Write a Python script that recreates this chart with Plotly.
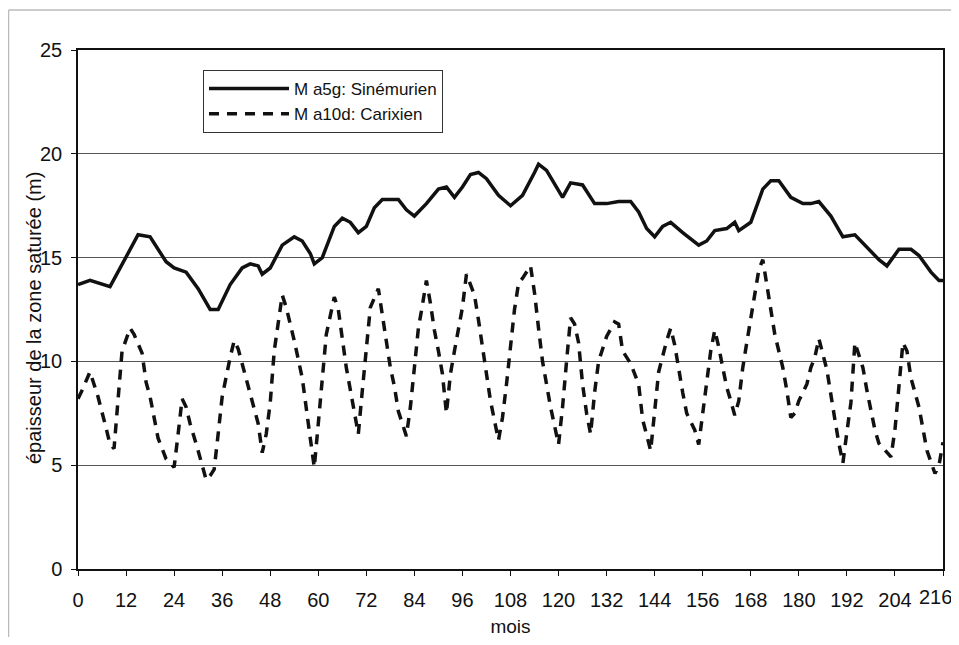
import plotly.graph_objects as go

# --- Data ---
sin_months = [0, 3, 8, 12, 15, 18, 22, 24, 27, 30, 33, 35, 38, 41, 43, 45, 46, 48, 51, 54, 56, 58, 59, 61,
              64, 66, 68, 70, 72, 74, 76, 80, 82, 84, 87, 90, 92, 94, 96, 98, 100, 102, 105, 108, 111, 114,
              115, 117, 120, 121, 123, 126, 129, 132, 135, 138, 140, 142, 144, 146, 148, 151, 155, 157, 159,
              162, 164, 165, 168, 171, 173, 175, 178, 181, 183, 185, 188, 191, 194, 197, 200, 202, 205, 208,
              210, 213, 215, 216]
sin_values = [13.7, 13.9, 13.6, 15.0, 16.1, 16.0, 14.8, 14.5, 14.3, 13.5, 12.5, 12.5, 13.7, 14.5, 14.7, 14.6,
              14.2, 14.5, 15.6, 16.0, 15.8, 15.2, 14.7, 15.0, 16.5, 16.9, 16.7, 16.2, 16.5, 17.4, 17.8, 17.8,
              17.3, 17.0, 17.6, 18.3, 18.4, 17.9, 18.4, 19.0, 19.1, 18.8, 18.0, 17.5, 18.0, 19.1, 19.5, 19.2,
              18.2, 17.9, 18.6, 18.5, 17.6, 17.6, 17.7, 17.7, 17.2, 16.4, 16.0, 16.5, 16.7, 16.2, 15.6, 15.8,
              16.3, 16.4, 16.7, 16.3, 16.7, 18.3, 18.7, 18.7, 17.9, 17.6, 17.6, 17.7, 17.0, 16.0, 16.1, 15.5,
              14.9, 14.6, 15.4, 15.4, 15.1, 14.3, 13.9, 13.9]

car_months = [0, 1, 3, 5, 7, 8, 9, 10, 11, 13, 14, 16, 17, 18, 20, 22, 24, 25, 26, 27, 28, 30, 32, 33, 34,
              35, 36, 38, 39, 40, 42, 44, 45, 46, 47, 48, 49, 51, 52, 54, 56, 58, 59, 60, 61, 62, 64, 65, 67,
              69, 70, 71, 72, 73, 75, 76, 77, 78, 79, 80, 82, 83, 84, 85, 86, 87, 88, 89, 90, 91, 92, 93, 94,
              95, 96, 97, 99, 100, 101, 102, 103, 105, 106, 107, 108, 109, 110, 111, 113, 114, 115, 116, 117,
              118, 120, 121, 122, 123, 124, 125, 126, 127, 128, 129, 130, 132, 134, 135, 136, 138, 140, 141,
              143, 144, 145, 147, 148, 149, 150, 151, 152, 154, 155, 156, 157, 158, 159, 160, 161, 162, 163,
              164, 165, 166, 167, 168, 169, 170, 171, 172, 173, 174, 175, 176, 177, 178, 179, 180, 182, 183,
              184, 185, 187, 188, 189, 190, 191, 192, 193, 194, 196, 197, 198, 199, 200, 202, 203, 204, 205,
              206, 207, 208, 210, 211, 212, 214, 215, 216]
car_values = [8.2, 8.6, 9.5, 8.3, 6.8, 6.0, 5.8, 8.3, 10.5, 11.6, 11.3, 10.4, 9.0, 8.3, 6.3, 5.3, 4.9, 6.5,
              8.2, 7.8, 7.0, 5.7, 4.3, 4.5, 4.8, 6.5, 8.3, 10.2, 11.0, 10.6, 9.2, 7.8, 7.0, 5.6, 6.5, 8.0,
              10.5, 13.2, 12.6, 11.0, 9.2, 6.3, 4.9, 7.0, 9.2, 11.3, 13.1, 12.5, 9.7, 7.5, 6.5, 8.6, 10.7,
              12.6, 13.5, 12.3, 10.9, 9.7, 8.8, 7.6, 6.4, 7.8, 9.7, 11.6, 12.7, 13.9, 12.8, 11.5, 10.5, 9.4,
              7.5, 9.4, 10.5, 11.5, 12.6, 14.2, 13.2, 12.0, 10.7, 9.4, 8.1, 6.2, 7.3, 8.9, 10.9, 12.5, 13.75,
              14.0, 14.6, 13.3, 11.6, 10.0, 8.9, 7.8, 6.0, 7.8, 10.0, 12.1, 11.8, 10.9, 8.9, 7.5, 6.5, 8.5,
              10.0, 11.2, 11.9, 11.8, 10.5, 9.9, 8.9, 7.2, 5.7, 7.6, 9.5, 11.0, 11.6, 10.8, 9.6, 8.5, 7.5,
              6.7, 6.0, 7.6, 9.2, 10.5, 11.5, 10.7, 9.7, 8.75, 8.1, 7.4, 8.1, 9.7, 10.9, 12.1, 13.4, 14.4,
              14.9, 13.75, 12.45, 11.3, 10.5, 9.7, 8.6, 7.3, 7.5, 8.1, 8.9, 9.7, 10.2, 11.1, 9.6, 8.3, 7.2,
              6.05, 5.1, 6.6, 8.0, 10.9, 9.7, 8.6, 7.6, 6.7, 6.05, 5.6, 5.4, 6.7, 8.6, 10.9, 10.5, 9.2, 7.8,
              6.7, 5.7, 4.6, 5.0, 6.1]

x_ticks = list(range(0, 217, 12))
y_ticks = [0, 5, 10, 15, 20, 25]

series_names = ["M a5g: Sinémurien", "M a10d: Carixien"]
x_title = "mois"
y_title = "épaisseur de la zone saturée (m)"

FONT = "Liberation Sans, Arial, sans-serif"

fig = go.Figure()
fig.add_trace(go.Scatter(x=sin_months, y=sin_values, mode="lines", name=series_names[0],
                         legendgroup="a",
                         line=dict(color="#111111", width=3.5)))
fig.add_trace(go.Scatter(x=car_months, y=car_values, mode="lines", name=series_names[1],
                         legendgroup="b",
                         line=dict(color="#111111", width=3.5, dash="10px,8px")))

# the page has an 8px body margin; work in page pixels and convert
OFF = 8
W, H = 959, 645 - 2 * OFF
L, R, T, B = 78 - OFF, 943 - OFF, 50 - OFF, 569 - OFF


def px(xpage):
    return (xpage - OFF - L) / (R - L)


def py(ypage):
    return (B - (ypage - OFF)) / (B - T)


# last tick label would be cut by the window edge: draw it as an annotation kept inside
tick_text = [str(v) for v in x_ticks[:-1]] + [""]
last_tick = x_ticks[-1]

fig.update_layout(
    width=W, height=H,
    margin=dict(l=L, r=W - R, t=T, b=H - B, autoexpand=False),
    paper_bgcolor="white", plot_bgcolor="white",
    font=dict(family=FONT, color="#111111", size=20),
    showlegend=True,
    legend=dict(x=px(203), y=py(70), xanchor="left", yanchor="top",
                bgcolor="white", bordercolor="#333333", borderwidth=1,
                font=dict(size=17, family=FONT), itemwidth=80,
                tracegroupgap=0),
    xaxis=dict(range=[0, 216], tickvals=x_ticks, ticktext=tick_text,
               showgrid=False, zeroline=False, showline=True, linecolor="#111111", linewidth=1.5,
               mirror=True, ticks="outside", ticklen=5, tickcolor="#111111",
               ticklabelstandoff=7, ticklabeloverflow="allow", automargin=False,
               tickfont=dict(size=20, family=FONT),
               title=dict(text=x_title, font=dict(size=19, family=FONT), standoff=12)),
    yaxis=dict(range=[0, 25], tickvals=y_ticks, showgrid=True, gridcolor="#555555", gridwidth=1,
               zeroline=False, showline=True, linecolor="#111111", linewidth=1.5, mirror=True,
               ticks="outside", ticklen=5, tickcolor="#111111",
               ticklabelstandoff=5, automargin=False,
               tickfont=dict(size=20, family=FONT)),
    annotations=[
        dict(text=y_title, xref="paper", yref="paper", x=px(34), y=py(318),
             xanchor="center", yanchor="middle", textangle=-90, showarrow=False,
             font=dict(size=20, family=FONT, color="#111111")),
        dict(text=str(last_tick), xref="x", yref="paper", x=last_tick, y=0,
             xanchor="right", yanchor="top", xshift=11, yshift=-15, showarrow=False,
             font=dict(size=20, family=FONT, color="#111111")),
    ],
    shapes=[
        dict(type="line", xref="paper", yref="paper", x0=px(8.5), x1=px(967), y0=py(10), y1=py(10),
             line=dict(color="#bbbbbb", width=1.5)),
        dict(type="line", xref="paper", yref="paper", x0=px(8.5), x1=px(8.5), y0=py(10), y1=py(637),
             line=dict(color="#bbbbbb", width=1.5)),
    ],
)

fig.write_html("out.html")
